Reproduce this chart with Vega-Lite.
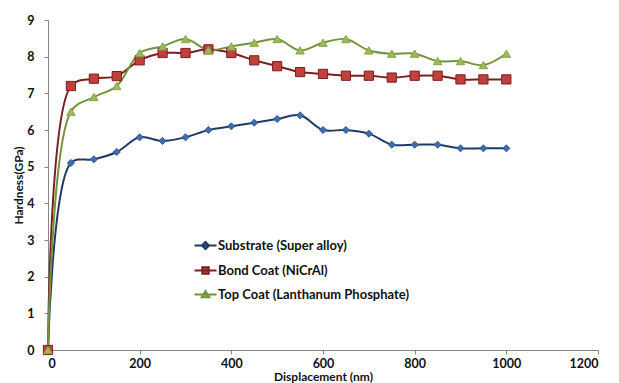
{
  "$schema": "https://vega.github.io/schema/vega-lite/v6.json",
  "width": 550,
  "height": 330,
  "autosize": {"type": "none"},
  "padding": {"left": 48, "top": 20, "right": 21, "bottom": 33},
  "background": "#ffffff",
  "config": {
    "view": {"stroke": null},
    "font": "Lato",
    "axis": {
      "grid": false,
      "domainColor": "#868686",
      "domainWidth": 1,
      "tickColor": "#868686",
      "tickSize": 4,
      "labelFont": "Lato",
      "labelFontWeight": "bold",
      "labelFontSize": 12.5,
      "labelColor": "#111111",
      "titleFont": "Lato",
      "titleFontWeight": "bold",
      "titleFontSize": 12,
      "titleColor": "#111111"
    }
  },
  "data": {
    "values": [
      {"d": 0, "h": 0, "s": "Substrate (Super alloy)"},
      {"d": 50, "h": 5.1, "s": "Substrate (Super alloy)"},
      {"d": 100, "h": 5.2, "s": "Substrate (Super alloy)"},
      {"d": 150, "h": 5.4, "s": "Substrate (Super alloy)"},
      {"d": 200, "h": 5.8, "s": "Substrate (Super alloy)"},
      {"d": 250, "h": 5.7, "s": "Substrate (Super alloy)"},
      {"d": 300, "h": 5.8, "s": "Substrate (Super alloy)"},
      {"d": 350, "h": 6.0, "s": "Substrate (Super alloy)"},
      {"d": 400, "h": 6.1, "s": "Substrate (Super alloy)"},
      {"d": 450, "h": 6.2, "s": "Substrate (Super alloy)"},
      {"d": 500, "h": 6.3, "s": "Substrate (Super alloy)"},
      {"d": 550, "h": 6.4, "s": "Substrate (Super alloy)"},
      {"d": 600, "h": 6.0, "s": "Substrate (Super alloy)"},
      {"d": 650, "h": 6.0, "s": "Substrate (Super alloy)"},
      {"d": 700, "h": 5.9, "s": "Substrate (Super alloy)"},
      {"d": 750, "h": 5.6, "s": "Substrate (Super alloy)"},
      {"d": 800, "h": 5.6, "s": "Substrate (Super alloy)"},
      {"d": 850, "h": 5.6, "s": "Substrate (Super alloy)"},
      {"d": 900, "h": 5.5, "s": "Substrate (Super alloy)"},
      {"d": 950, "h": 5.5, "s": "Substrate (Super alloy)"},
      {"d": 1000, "h": 5.5, "s": "Substrate (Super alloy)"},
      {"d": 0, "h": 0, "s": "Bond Coat (NiCrAl)"},
      {"d": 50, "h": 7.2, "s": "Bond Coat (NiCrAl)"},
      {"d": 100, "h": 7.4, "s": "Bond Coat (NiCrAl)"},
      {"d": 150, "h": 7.47, "s": "Bond Coat (NiCrAl)"},
      {"d": 200, "h": 7.9, "s": "Bond Coat (NiCrAl)"},
      {"d": 250, "h": 8.1, "s": "Bond Coat (NiCrAl)"},
      {"d": 300, "h": 8.1, "s": "Bond Coat (NiCrAl)"},
      {"d": 350, "h": 8.2, "s": "Bond Coat (NiCrAl)"},
      {"d": 400, "h": 8.1, "s": "Bond Coat (NiCrAl)"},
      {"d": 450, "h": 7.9, "s": "Bond Coat (NiCrAl)"},
      {"d": 500, "h": 7.74, "s": "Bond Coat (NiCrAl)"},
      {"d": 550, "h": 7.58, "s": "Bond Coat (NiCrAl)"},
      {"d": 600, "h": 7.53, "s": "Bond Coat (NiCrAl)"},
      {"d": 650, "h": 7.48, "s": "Bond Coat (NiCrAl)"},
      {"d": 700, "h": 7.48, "s": "Bond Coat (NiCrAl)"},
      {"d": 750, "h": 7.43, "s": "Bond Coat (NiCrAl)"},
      {"d": 800, "h": 7.48, "s": "Bond Coat (NiCrAl)"},
      {"d": 850, "h": 7.48, "s": "Bond Coat (NiCrAl)"},
      {"d": 900, "h": 7.38, "s": "Bond Coat (NiCrAl)"},
      {"d": 950, "h": 7.38, "s": "Bond Coat (NiCrAl)"},
      {"d": 1000, "h": 7.38, "s": "Bond Coat (NiCrAl)"},
      {"d": 0, "h": 0, "s": "Top Coat (Lanthanum Phosphate)"},
      {"d": 50, "h": 6.5, "s": "Top Coat (Lanthanum Phosphate)"},
      {"d": 100, "h": 6.9, "s": "Top Coat (Lanthanum Phosphate)"},
      {"d": 150, "h": 7.2, "s": "Top Coat (Lanthanum Phosphate)"},
      {"d": 200, "h": 8.1, "s": "Top Coat (Lanthanum Phosphate)"},
      {"d": 250, "h": 8.28, "s": "Top Coat (Lanthanum Phosphate)"},
      {"d": 300, "h": 8.48, "s": "Top Coat (Lanthanum Phosphate)"},
      {"d": 350, "h": 8.18, "s": "Top Coat (Lanthanum Phosphate)"},
      {"d": 400, "h": 8.28, "s": "Top Coat (Lanthanum Phosphate)"},
      {"d": 450, "h": 8.38, "s": "Top Coat (Lanthanum Phosphate)"},
      {"d": 500, "h": 8.48, "s": "Top Coat (Lanthanum Phosphate)"},
      {"d": 550, "h": 8.17, "s": "Top Coat (Lanthanum Phosphate)"},
      {"d": 600, "h": 8.38, "s": "Top Coat (Lanthanum Phosphate)"},
      {"d": 650, "h": 8.48, "s": "Top Coat (Lanthanum Phosphate)"},
      {"d": 700, "h": 8.17, "s": "Top Coat (Lanthanum Phosphate)"},
      {"d": 750, "h": 8.08, "s": "Top Coat (Lanthanum Phosphate)"},
      {"d": 800, "h": 8.08, "s": "Top Coat (Lanthanum Phosphate)"},
      {"d": 850, "h": 7.88, "s": "Top Coat (Lanthanum Phosphate)"},
      {"d": 900, "h": 7.88, "s": "Top Coat (Lanthanum Phosphate)"},
      {"d": 950, "h": 7.77, "s": "Top Coat (Lanthanum Phosphate)"},
      {"d": 1000, "h": 8.08, "s": "Top Coat (Lanthanum Phosphate)"}
    ]
  },
  "encoding": {
    "x": {
      "field": "d",
      "type": "quantitative",
      "title": "Displacement (nm)",
      "scale": {"domain": [0, 1200], "nice": false},
      "axis": {"values": [0, 200, 400, 600, 800, 1000, 1200], "format": "d", "labelPadding": 3, "titlePadding": 2}
    },
    "y": {
      "field": "h",
      "type": "quantitative",
      "title": "Hardness(GPa)",
      "scale": {"domain": [0, 9], "nice": false},
      "axis": {"values": [0, 1, 2, 3, 4, 5, 6, 7, 8, 9], "format": "d", "labelPadding": 10, "titlePadding": 1}
    }
  },
  "layer": [
    {
      "mark": {"type": "line", "interpolate": "catmull-rom", "strokeWidth": 2},
      "encoding": {
        "color": {
          "field": "s",
          "type": "nominal",
          "sort": null,
          "scale": {
            "domain": ["Substrate (Super alloy)", "Bond Coat (NiCrAl)", "Top Coat (Lanthanum Phosphate)"],
            "range": ["#1f3b64", "#7a1f1f", "#76923c"]
          },
          "legend": {
            "title": null,
            "orient": "none",
            "legendX": 151,
            "legendY": 219,
            "symbolType": "stroke",
            "symbolSize": 64,
            "symbolStrokeWidth": 2,
            "labelOffset": 6,
            "labelFont": "Lato",
            "labelFontWeight": "bold",
            "labelFontSize": 13,
            "labelColor": "#111111",
            "labelLimit": 400,
            "rowPadding": 9,
            "encode": {
              "symbols": {
                "update": {
                  "shape": {"signal": "datum.value === 'Substrate (Super alloy)' ? 'M-2.75,0L2.75,0M0,-0.9L0.9,0L0,0.9L-0.9,0Z' : datum.value === 'Bond Coat (NiCrAl)' ? 'M-2.75,0L2.75,0M-0.8,-0.8L0.8,-0.8L0.8,0.8L-0.8,0.8Z' : 'M-2.75,0L2.75,0M0,-0.85L0.95,0.7L-0.95,0.7Z'"},
                  "fill": {"signal": "datum.value === 'Substrate (Super alloy)' ? '#3d6fb0' : datum.value === 'Bond Coat (NiCrAl)' ? '#c0403c' : '#9bbb59'"},
                  "stroke": {"signal": "datum.value === 'Substrate (Super alloy)' ? '#1f3b64' : datum.value === 'Bond Coat (NiCrAl)' ? '#7a1f1f' : '#76923c'"},
                  "strokeWidth": {"value": 2},
                  "strokeOpacity": {"value": 1},
                  "fillOpacity": {"value": 1},
                  "opacity": {"value": 1}
                }
              }
            }
          }
        }
      }
    },
    {
      "transform": [{"filter": "datum.s === 'Substrate (Super alloy)'"}],
      "mark": {"type": "point", "shape": "diamond", "filled": true, "opacity": 1, "size": 50, "fill": "#3d6fb0", "stroke": "#2f5a92", "strokeWidth": 1}
    },
    {
      "transform": [{"filter": "datum.s === 'Bond Coat (NiCrAl)'"}],
      "mark": {"type": "point", "shape": "square", "filled": true, "opacity": 1, "size": 85, "fill": "#c0403c", "stroke": "#7a1f1f", "strokeWidth": 1}
    },
    {
      "transform": [{"filter": "datum.s === 'Top Coat (Lanthanum Phosphate)'"}],
      "mark": {"type": "point", "shape": "triangle-up", "filled": true, "opacity": 1, "size": 70, "fill": "#9bbb59", "stroke": "#86a348", "strokeWidth": 1}
    }
  ]
}
